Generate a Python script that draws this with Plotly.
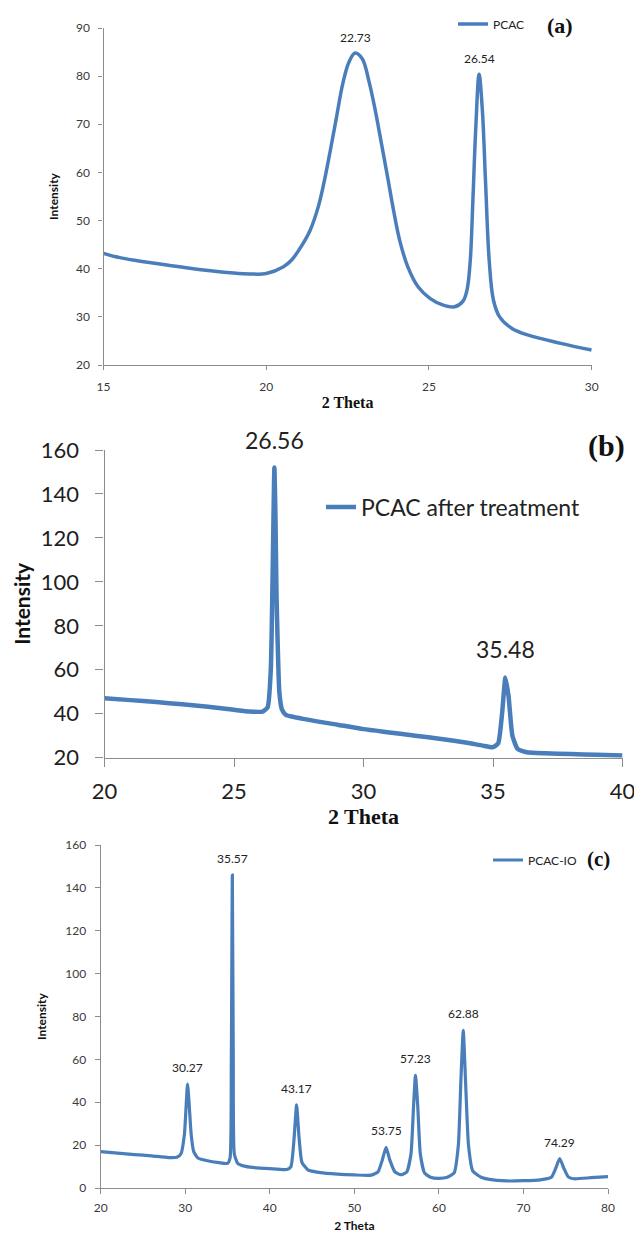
import plotly.graph_objects as go

# ---------------- data ----------------
# Panel (a): PCAC
a_x = [15, 15.5, 16, 17, 18, 19, 19.5, 20.0, 20.53, 20.78, 21.1, 21.35, 21.6, 21.79, 21.97,
       22.16, 22.35, 22.54, 22.73, 22.95, 23.16, 23.35, 23.54, 23.73, 23.91, 24.1, 24.35,
       24.67, 25.04, 25.42, 25.79, 26.04, 26.17, 26.27, 26.35, 26.44, 26.54, 26.64, 26.74,
       26.85, 26.98, 27.17, 27.55, 28.05, 29.05, 30.0]
a_y = [43.2, 42.3, 41.7, 40.7, 39.8, 39.1, 38.9, 39.0, 40.4, 41.8, 44.9, 48.0, 52.9, 58.4, 64.6,
       71.5, 78.4, 82.9, 84.8, 83.6, 78.8, 72.9, 66.0, 59.0, 52.2, 45.9, 40.4,
       36.2, 33.8, 32.5, 32.1, 33.2, 35.6, 41.8, 54.3, 69.5, 80.4, 73.0, 57.7,
       41.8, 33.5, 30.0, 27.6, 26.2, 24.5, 23.1]
a_peaks_x = [22.73, 26.54]
a_peaks_y = [84.8, 80.4]
a_peak_labels = ["22.73", "26.54"]

# Panel (b): PCAC after treatment
b_x = [20, 21, 22, 23, 24, 25, 25.6, 26.1, 26.3, 26.42, 26.5, 26.56, 26.6, 26.64, 26.68, 26.75,
       26.85, 27.0, 28, 29, 30, 31, 32, 33, 34, 34.6, 35.0, 35.2, 35.35, 35.48, 35.6,
       35.75, 35.95, 36.3, 37, 38, 39, 40]
b_y = [47, 46.2, 45.3, 44.3, 43.2, 41.8, 41, 41, 43, 60, 110, 152, 130, 95, 75, 50,
       42, 39.5, 37, 35, 33, 31.5, 30, 28.5, 26.8, 25.5, 24.8, 26.5, 40, 56.5, 48,
       30, 24, 22.5, 22, 21.7, 21.3, 21]
b_peaks_x = [26.56, 35.48]
b_peaks_y = [152, 56.5]
b_peak_labels = ["26.56", "35.48"]

# Panel (c): PCAC-IO
c_x = [20, 22, 24, 26, 28, 29, 29.5, 29.9, 30.1, 30.27, 30.45, 30.7, 31, 31.5, 32.5, 34, 35,
       35.3, 35.45, 35.57, 35.68, 35.8, 36.2, 37, 38, 40, 42, 42.5, 42.85, 43.17, 43.45, 43.8,
       44.5, 46, 48, 50, 52, 52.8, 53.3, 53.75, 54.2, 54.8, 55.5, 56.2, 56.7, 57.0, 57.23, 57.5,
       57.8, 58.3, 59, 60, 61, 61.8, 62.3, 62.6, 62.88, 63.15, 63.5, 64, 65, 66, 68, 70, 72,
       73.3, 73.8, 74.29, 74.8, 75.3, 76, 78, 80]
c_y = [17, 16.3, 15.6, 15, 14.2, 14.3, 16, 25, 38, 48.5, 40, 25, 17, 14, 12.8, 11.8, 11.5,
       14, 60, 146, 60, 16, 11.5, 10.2, 9.6, 9, 8.6, 10, 22, 38.8, 24, 12,
       8.5, 7.2, 6.5, 6.1, 6, 7.5, 13, 19, 13, 7.5, 6.2, 7.5, 16, 38, 52.6, 38,
       16, 7, 5, 4.5, 5, 7, 20, 50, 73.5, 50, 20, 8, 5, 4, 3.3, 3.4, 3.8,
       5, 9, 13.7, 9, 5.2, 4.3, 4.8, 5.3]
c_peaks_x = [30.27, 35.57, 43.17, 53.75, 57.23, 62.88, 74.29]
c_peaks_y = [48.5, 146, 38.8, 19, 52.6, 73.5, 13.7]
c_peak_labels = ["30.27", "35.57", "43.17", "53.75", "57.23", "62.88", "74.29"]

# ---------------- styling ----------------
W, H = 634, 1237
BLUE = "#4a7ebb"
AXIS = "#8c8c8c"
SANS = "Lato"
SERIF = "Liberation Serif"


def px_x(p):
    return p / W


def px_y(p):
    return 1 - p / H


fig = go.Figure()

fig.add_trace(go.Scatter(x=a_x, y=a_y, mode="lines", name="PCAC",
                         line=dict(color=BLUE, width=3.5, shape="spline", smoothing=1.0),
                         xaxis="x", yaxis="y", legend="legend"))
fig.add_trace(go.Scatter(x=b_x, y=b_y, mode="lines", name="PCAC after treatment",
                         line=dict(color=BLUE, width=4.5, shape="spline", smoothing=0.5),
                         xaxis="x2", yaxis="y2", legend="legend2"))
fig.add_trace(go.Scatter(x=c_x, y=c_y, mode="lines", name="PCAC-IO",
                         line=dict(color=BLUE, width=3.2, shape="spline", smoothing=0.5),
                         xaxis="x3", yaxis="y3", legend="legend3"))


def axis_common(fs, color, ticklen, standoff):
    return dict(showgrid=False, zeroline=False, showline=True, linecolor=AXIS, linewidth=1.3,
                ticks="outside", ticklen=ticklen, tickcolor=AXIS, tickwidth=1.3,
                tickfont=dict(family=SANS, size=fs, color=color),
                ticklabelstandoff=standoff, ticklabeloverflow="allow",
                automargin=False, fixedrange=True)


layout = dict(
    width=W, height=H, margin=dict(l=0, r=0, t=0, b=0),
    paper_bgcolor="white", plot_bgcolor="white", showlegend=True,
    # panel a
    xaxis=dict(domain=[px_x(103.5), px_x(591.7)], range=[15, 30], dtick=5, anchor="y",
               title=dict(text="2 Theta", standoff=4,
                          font=dict(family=SERIF, size=16, color="#111", weight="bold")),
               **axis_common(12, "#3a3a3a", 4, 6)),
    yaxis=dict(domain=[px_y(365), px_y(28)], range=[20, 90], dtick=10, anchor="x",
               title=dict(text="Intensity", standoff=14,
                          font=dict(family=SANS, size=12, color="#111", weight="bold")),
               **axis_common(12, "#3a3a3a", 4, 6)),
    # panel b
    xaxis2=dict(domain=[px_x(104.5), px_x(622.5)], range=[20, 40], dtick=5, anchor="y2",
                title=dict(text="2 Theta", standoff=3,
                           font=dict(family=SERIF, size=22, color="#111", weight="bold")),
                **axis_common(22, "#1e1e1e", 8, 6)),
    yaxis2=dict(domain=[px_y(757.7), px_y(450)], range=[20, 160], dtick=20, anchor="x2",
                title=dict(text="Intensity", standoff=4,
                           font=dict(family=SANS, size=21, color="#111", weight="bold")),
                **axis_common(22, "#1e1e1e", 8, 12)),
    # panel c
    xaxis3=dict(domain=[px_x(100.7), px_x(608)], range=[20, 80], dtick=10, anchor="y3",
                title=dict(text="2 Theta", standoff=8,
                           font=dict(family=SANS, size=12, color="#111", weight="bold")),
                **axis_common(12, "#3a3a3a", 5, 3)),
    yaxis3=dict(domain=[px_y(1188), px_y(845)], range=[0, 160], dtick=20, anchor="x3",
                title=dict(text="Intensity", standoff=16,
                           font=dict(family=SANS, size=12, color="#111", weight="bold")),
                **axis_common(12, "#3a3a3a", 5, 6)),
    legend=dict(x=px_x(453), y=px_y(24), xanchor="left", yanchor="middle",
                bgcolor="rgba(0,0,0,0)", borderwidth=0,
                font=dict(family=SANS, size=12, color="#222")),
    legend2=dict(x=px_x(321), y=px_y(507), xanchor="left", yanchor="middle",
                 bgcolor="rgba(0,0,0,0)", borderwidth=0,
                 font=dict(family=SANS, size=23, color="#222")),
    legend3=dict(x=px_x(488), y=px_y(860), xanchor="left", yanchor="middle",
                 bgcolor="rgba(0,0,0,0)", borderwidth=0,
                 font=dict(family=SANS, size=12, color="#222")),
)
fig.update_layout(**layout)

annotations = []
for xs, ys, labels, ax, fs, shift in [
    (a_peaks_x, a_peaks_y, a_peak_labels, "", 12, 6),
    (b_peaks_x, b_peaks_y, b_peak_labels, "2", 23, 12),
    (c_peaks_x, c_peaks_y, c_peak_labels, "3", 12, 7),
]:
    for xv, yv, t in zip(xs, ys, labels):
        annotations.append(dict(x=xv, y=yv, xref="x" + ax, yref="y" + ax, text=t,
                                showarrow=False, yanchor="bottom", yshift=shift,
                                font=dict(family=SANS, size=fs, color="#222")))

for t, cx, cy, fs in [("(a)", 560, 25, 22), ("(b)", 606, 446, 30), ("(c)", 598, 859, 21)]:
    annotations.append(dict(x=px_x(cx), y=px_y(cy), xref="paper", yref="paper", text=t,
                            showarrow=False, xanchor="center", yanchor="middle",
                            font=dict(family=SERIF, size=fs, color="#111", weight="bold")))

fig.update_layout(annotations=annotations)

fig.write_html("out.html")
